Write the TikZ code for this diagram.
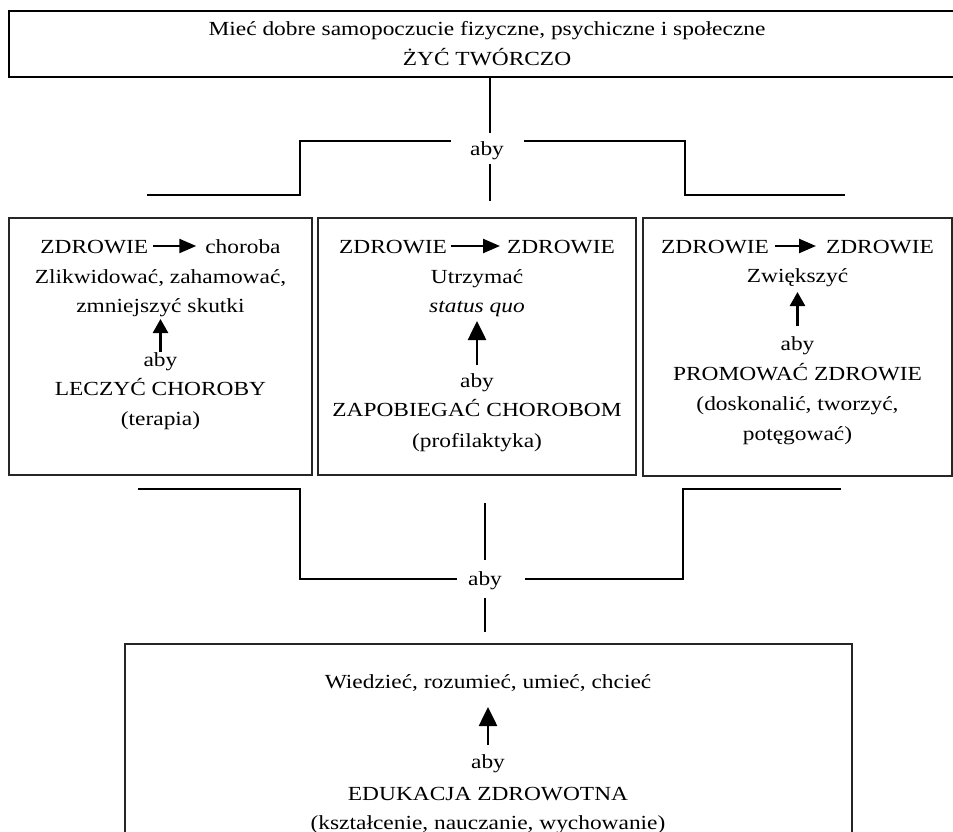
\documentclass[tikz,border=0pt]{standalone}
\usepackage{fontspec}
\setmainfont{Liberation Serif}[FakeStretch=1.17]
\usetikzlibrary{arrows.meta}
\begin{document}
\begin{tikzpicture}[x=1pt,y=-1pt,
  frame/.style={draw=black!85, line width=1.4pt, inner sep=0pt, outer sep=0pt, anchor=north west},
  txt/.style={inner sep=0pt, outer sep=0pt, anchor=base, font=\fontsize{20}{24}\selectfont},
  conn/.style={line width=2pt, black},
  uparrow/.style={line width=2.6pt, -{Triangle[length=14pt,width=15pt]}},
  bigarrow/.style={line width=2.6pt, -{Triangle[length=19pt,width=18pt]}},
  harrow/.style={line width=2.4pt, -{Triangle[length=17pt,width=14pt]}},
]
\useasboundingbox (0,0) rectangle (953,832);

% boxes
\node[frame, line width=2pt, draw=black, minimum width=947pt, minimum height=66pt] (top) at (9,11) {};
\node[frame, minimum width=303pt, minimum height=257pt] (b1) at (9,218) {};
\node[frame, minimum width=318pt, minimum height=257pt] (b2) at (318,218) {};
\node[frame, minimum width=309pt, minimum height=258pt] (b3) at (643,218) {};
\node[frame, minimum width=727pt, minimum height=192pt] (bot) at (125,644) {};

% top box text
\node[txt] (t1) at (487,36) {Mieć dobre samopoczucie fizyczne, psychiczne i społeczne};
\node[txt] (t2) at (487,66) {ŻYĆ TWÓRCZO};

% box 1
\node[txt] (r1) at (160.5,253) {\phantom{ZDROWIE}\hspace{57pt}\phantom{choroba}};
\node[txt, anchor=base west] (r1a) at (r1.base west) {ZDROWIE};
\node[txt, anchor=base east] (r1b) at (r1.base east) {choroba};
\draw[harrow] ([shift={(5pt,7pt)}]r1a.base east) -- ([shift={(-9pt,7pt)}]r1b.base west);
\node[txt] (t12) at (160.5,283) {Zlikwidować, zahamować,};
\node[txt] (t13) at (160.5,312) {zmniejszyć skutki};
\node[txt] (ab1) at (160.5,366) {aby};
\node[txt] (t15) at (160.5,395) {LECZYĆ CHOROBY};
\node[txt] (t16) at (160.5,425) {(terapia)};
\draw[uparrow] ([yshift=14pt]ab1.base) -- ([yshift=-7pt]t13.base);

% box 2
\node[txt] (r2) at (477,253) {\phantom{ZDROWIE}\hspace{60pt}\phantom{ZDROWIE}};
\node[txt, anchor=base west] (r2a) at (r2.base west) {ZDROWIE};
\node[txt, anchor=base east] (r2b) at (r2.base east) {ZDROWIE};
\draw[harrow] ([shift={(4pt,7pt)}]r2a.base east) -- ([shift={(-7pt,7pt)}]r2b.base west);
\node[txt] (t22) at (477,283) {Utrzymać};
\node[txt] (t23) at (477,312) {\itshape status quo};
\node[txt] (ab2) at (477,387) {aby};
\node[txt] (t25) at (477,416) {ZAPOBIEGAĆ CHOROBOM};
\node[txt] (t26) at (477,447) {(profilaktyka)};
\draw[bigarrow] ([yshift=22pt]ab2.base) -- ([yshift=-9pt]t23.base);

% box 3
\node[txt] (r3) at (797.5,253) {\phantom{ZDROWIE}\hspace{57pt}\phantom{ZDROWIE}};
\node[txt, anchor=base west] (r3a) at (r3.base west) {ZDROWIE};
\node[txt, anchor=base east] (r3b) at (r3.base east) {ZDROWIE};
\draw[harrow] ([shift={(6pt,7pt)}]r3a.base east) -- ([shift={(-10pt,7pt)}]r3b.base west);
\node[txt] (t32) at (797.5,282) {Zwiększyć};
\node[txt] (ab3) at (797.5,350) {aby};
\node[txt] (t34) at (797.5,380) {PROMOWAĆ ZDROWIE};
\node[txt] (t35) at (797.5,410) {(doskonalić, tworzyć,};
\node[txt] (t36) at (797.5,440) {potęgować)};
\draw[uparrow] ([yshift=24pt]ab3.base) -- ([yshift=-10pt]t32.base);

% bottom box
\node[txt] (tb1) at (488,688) {Wiedzieć, rozumieć, umieć, chcieć};
\node[txt] (abb) at (488,768) {aby};
\node[txt] (tb3) at (488,800) {EDUKACJA ZDROWOTNA};
\node[txt] (tb4) at (488,829) {(kształcenie, nauczanie, wychowanie)};
\draw[bigarrow] ([yshift=23pt]abb.base) -- ([yshift=-19pt]tb1.base);

% upper connector
\node[txt] (aU) at (487,155) {aby};
\coordinate (u1) at (490,133);
\coordinate (u2) at (490,164);
\coordinate (u3) at (490,201);
\coordinate (ul1) at (451,141);
\coordinate (ul2) at (300,141);
\coordinate (ul3) at (300,195);
\coordinate (ul4) at (147,195);
\coordinate (ur1) at (524,141);
\coordinate (ur2) at (685,141);
\coordinate (ur3) at (685,195);
\coordinate (ur4) at (845,195);
\draw[conn] (top.south -| u1) -- (u1);
\draw[conn] (u2) -- (u3);
\draw[conn] (ul1) -- (ul2) -- (ul3) -- (ul4);
\draw[conn] (ur1) -- (ur2) -- (ur3) -- (ur4);

% lower connector
\node[txt] (aL) at (485,585) {aby};
\coordinate (lc1) at (485,503);
\coordinate (lc2) at (485,560);
\coordinate (lc3) at (485,598);
\coordinate (lc4) at (485,632);
\coordinate (ll1) at (457,579);
\coordinate (ll2) at (300,579);
\coordinate (ll3) at (300,489);
\coordinate (ll4) at (138,489);
\coordinate (lr1) at (525,579);
\coordinate (lr2) at (683,579);
\coordinate (lr3) at (683,489);
\coordinate (lr4) at (841,489);
\draw[conn] (lc1) -- (lc2);
\draw[conn] (lc3) -- (lc4);
\draw[conn] (ll1) -- (ll2) -- (ll3) -- (ll4);
\draw[conn] (lr1) -- (lr2) -- (lr3) -- (lr4);
\end{tikzpicture}
\end{document}
